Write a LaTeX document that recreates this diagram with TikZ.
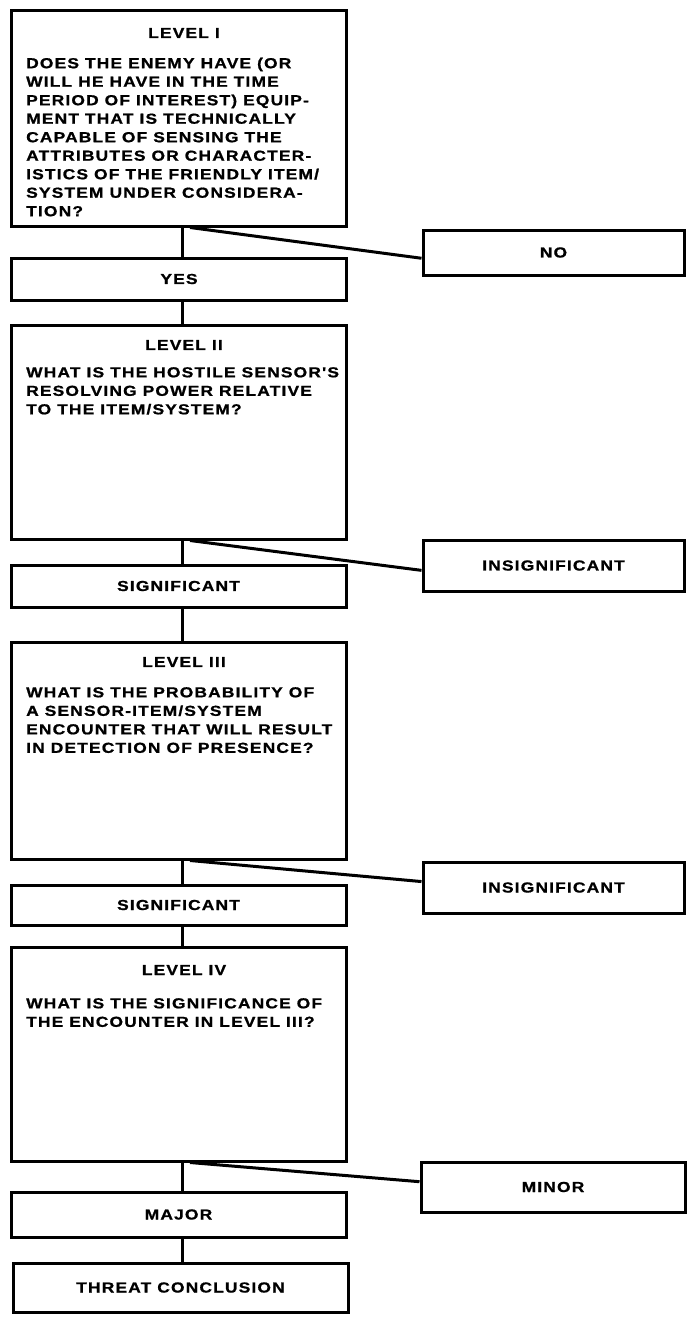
\documentclass[tikz,border=0pt]{standalone}
\usepackage{fontspec}
\newfontfamily\flowfont[FakeStretch=1.2,LetterSpace=8,BoldFeatures={FakeBold=1}]{Liberation Sans}
\usetikzlibrary{calc}
\begin{document}
\begin{tikzpicture}[x=1pt,y=-1pt,
  txt/.style={font=\flowfont\bfseries\fontsize{14.5}{18.5}\selectfont},
  box/.style={draw, line width=3pt, rectangle, inner sep=0pt, txt},
  levelbox/.style={box, minimum width=335pt},
  answer/.style={box, minimum width=335pt},
  sidebox/.style={box, minimum width=261pt},
  title/.style={txt, inner sep=0pt, anchor=center},
  body/.style={txt, inner sep=0pt, anchor=north west, align=left},
  link/.style={line width=3pt}]
\useasboundingbox (0,0) rectangle (687,1317);

% spine of the main column and start of the side branches
\coordinate (spine) at (182,0);
\coordinate (fork) at (190,0);

% Level I
\node[levelbox, minimum height=216pt] (l1) at (178.5,118) {};
\node[title] (l1t) at (184,33) {LEVEL I};
\node[body] (l1b) at (26,57.5) {DOES THE ENEMY HAVE (OR\\
WILL HE HAVE IN THE TIME\\
PERIOD OF INTEREST) EQUIP-\\
MENT THAT IS TECHNICALLY\\
CAPABLE OF SENSING THE\\
ATTRIBUTES OR CHARACTER-\\
ISTICS OF THE FRIENDLY ITEM/\\
SYSTEM UNDER CONSIDERA-\\
TION?};
\node[sidebox, minimum height=45pt] (no) at (553.5,252.5) {NO};
\node[answer, minimum height=42pt] (yes) at (179,279) {YES};

% Level II
\node[levelbox, minimum height=214pt] (l2) at (178.5,432) {};
\node[title] (l2t) at (184,345) {LEVEL II};
\node[body] (l2b) at (26,367) {WHAT IS THE HOSTILE SENSOR'S\\
RESOLVING POWER RELATIVE\\
TO THE ITEM/SYSTEM?};
\node[sidebox, minimum height=51pt] (ins1) at (553.5,565.5) {INSIGNIFICANT};
\node[answer, minimum height=42pt] (sig1) at (178.5,586) {SIGNIFICANT};

% Level III
\node[levelbox, minimum height=217pt] (l3) at (178.5,750.5) {};
\node[title] (l3t) at (184,662) {LEVEL III};
\node[body] (l3b) at (26,687) {WHAT IS THE PROBABILITY OF\\
A SENSOR-ITEM/SYSTEM\\
ENCOUNTER THAT WILL RESULT\\
IN DETECTION OF PRESENCE?};
\node[sidebox, minimum height=51pt] (ins2) at (553.5,887.5) {INSIGNIFICANT};
\node[answer, minimum height=40pt] (sig2) at (178.5,905) {SIGNIFICANT};

% Level IV
\node[levelbox, minimum height=214pt] (l4) at (178.5,1054) {};
\node[title] (l4t) at (184,970) {LEVEL IV};
\node[body] (l4b) at (26,998) {WHAT IS THE SIGNIFICANCE OF\\
THE ENCOUNTER IN LEVEL III?};
\node[box, minimum width=264pt, minimum height=50pt] (minor) at (553,1187) {MINOR};
\node[answer, minimum height=45pt] (major) at (178.5,1214.5) {MAJOR};
\node[answer, minimum height=49pt] (threat) at (180.5,1287.5) {THREAT CONCLUSION};

% main column connectors
\draw[link] (spine |- l1.south) -- (spine |- yes.north);
\draw[link] (spine |- yes.south) -- (spine |- l2.north);
\draw[link] (spine |- l2.south) -- (spine |- sig1.north);
\draw[link] (spine |- sig1.south) -- (spine |- l3.north);
\draw[link] (spine |- l3.south) -- (spine |- sig2.north);
\draw[link] (spine |- sig2.south) -- (spine |- l4.north);
\draw[link] (spine |- l4.south) -- (spine |- major.north);
\draw[link] (spine |- major.south) -- (spine |- threat.north);

% side branches
\draw[link] (fork |- l1.south) -- ($(no.north west)!0.62!(no.south west)$);
\draw[link] (fork |- l2.south) -- ($(ins1.north west)!0.59!(ins1.south west)$);
\draw[link] (fork |- l3.south) -- ($(ins2.north west)!0.39!(ins2.south west)$);
\draw[link] (fork |- l4.south) -- ($(minor.north west)!0.4!(minor.south west)$);
\end{tikzpicture}
\end{document}
